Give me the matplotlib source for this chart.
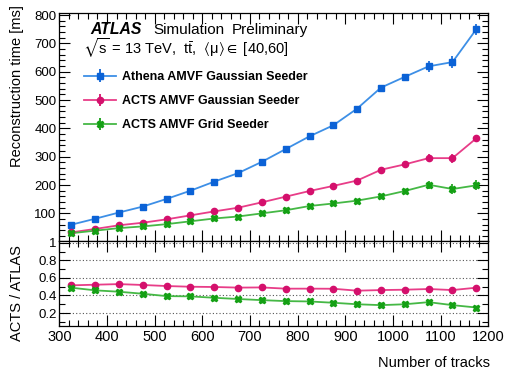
import numpy as np
import matplotlib.pyplot as plt
from matplotlib.ticker import MultipleLocator

plt.rcParams['font.family'] = ['Liberation Sans', 'DejaVu Sans']
plt.rcParams['mathtext.fontset'] = 'custom'
plt.rcParams['mathtext.rm'] = 'Liberation Sans'
plt.rcParams['mathtext.it'] = 'Liberation Sans'
plt.rcParams['mathtext.fallback'] = 'stixsans'

# Data
ntracks = [325, 375, 425, 475, 525, 575, 625, 675, 725, 775, 825, 875, 925, 975, 1025, 1075, 1125, 1175]

athena_gauss = [60, 81, 103, 124, 151, 180, 212, 242, 282, 327, 372, 411, 470, 544, 582, 619, 634, 750]
athena_gauss_err = [4, 3, 3, 3, 3, 3, 4, 4, 4, 4, 5, 5, 6, 8, 10, 20, 22, 20]

acts_gauss = [33, 45, 58, 67, 79, 93, 107, 120, 139, 159, 179, 197, 216, 254, 273, 295, 295, 365]
acts_gauss_err = [3, 2, 2, 2, 2, 2, 3, 3, 3, 3, 4, 4, 5, 6, 8, 14, 16, 12]

acts_grid = [30, 39, 48, 54, 62, 72, 82, 89, 100, 111, 126, 135, 145, 160, 179, 201, 186, 199]
acts_grid_err = [3, 2, 2, 2, 2, 2, 3, 3, 3, 3, 4, 4, 5, 6, 8, 14, 18, 18]

ratio_gauss = [0.516, 0.523, 0.53, 0.52, 0.508, 0.50, 0.497, 0.49, 0.492, 0.478, 0.478, 0.477,
               0.455, 0.462, 0.466, 0.474, 0.462, 0.489]
ratio_grid = [0.489, 0.459, 0.443, 0.42, 0.393, 0.39, 0.374, 0.36, 0.347, 0.336, 0.332, 0.317,
              0.30, 0.29, 0.30, 0.324, 0.29, 0.263]

blue_line, blue_mk = '#3d8fe6', '#0b62d6'
pink_line, pink_mk = '#e83d88', '#d4106c'
green_line, green_mk = '#45b845', '#14a014'

W, H = 507, 371
fig = plt.figure(figsize=(W / 100, H / 100), dpi=100)
ax = fig.add_axes([0.117, 0.350, 0.846, 0.614])
axr = fig.add_axes([0.117, 0.122, 0.846, 0.228], sharex=ax)

def draw(a, y, err, lc, mc, marker, ms, label=None):
    a.plot(ntracks, y, color=lc, lw=1.3, zorder=2)
    a.errorbar(ntracks, y, yerr=err, xerr=4, fmt=marker, ms=ms, color=mc,
               ecolor=mc, elinewidth=1.2, capsize=0, zorder=3)
    if label:
        a.errorbar([], [], yerr=[], fmt='-' + marker, ms=ms, color=lc, mfc=mc, mec=mc,
                   ecolor=mc, lw=1.3, label=label)

draw(ax, athena_gauss, athena_gauss_err, blue_line, blue_mk, 's', 4.5, 'Athena AMVF Gaussian Seeder')
draw(ax, acts_gauss, acts_gauss_err, pink_line, pink_mk, 'o', 4.5, 'ACTS AMVF Gaussian Seeder')
draw(ax, acts_grid, acts_grid_err, green_line, green_mk, 'X', 5, 'ACTS AMVF Grid Seeder')

ratio_err = [0.01] * len(ntracks)
draw(axr, ratio_gauss, ratio_err, pink_line, pink_mk, 'o', 4.5)
draw(axr, ratio_grid, ratio_err, green_line, green_mk, 'X', 5)

ax.set_xlim(300, 1200)
ax.set_ylim(2, 806)
axr.set_ylim(0.055, 1.02)

for a in (ax, axr):
    a.tick_params(which='both', direction='in', top=True, right=True, labelsize=9.5, pad=2)
    a.tick_params(which='major', length=8, width=0.8)
    a.tick_params(which='minor', length=4, width=0.8)
    a.xaxis.set_major_locator(MultipleLocator(100))
    a.xaxis.set_minor_locator(MultipleLocator(20))
    for s in a.spines.values():
        s.set_linewidth(0.9)
axr.tick_params(axis='x', labelsize=10.5, pad=3)

ax.yaxis.set_major_locator(MultipleLocator(100))
ax.yaxis.set_minor_locator(MultipleLocator(20))
ax.set_yticks([100, 200, 300, 400, 500, 600, 700, 800])
ax.tick_params(labelbottom=False)

axr.set_yticks([0.2, 0.4, 0.6, 0.8, 1.0])
axr.set_yticklabels(['0.2', '0.4', '0.6', '0.8', '1'])
axr.yaxis.set_minor_locator(MultipleLocator(0.1))
for v in [0.2, 0.4, 0.6, 0.8, 1.0]:
    axr.axhline(v, color='#555555', ls=(0, (1, 2)), lw=0.8, zorder=1)

# axis titles placed in figure pixels, like the reference
fig.text(17 / W, 1 - 5 / H, 'Reconstruction time [ms]', rotation=90, ha='center', va='top', fontsize=10.5)
fig.text(17 / W, 1 - 293 / H, 'ACTS / ATLAS', rotation=90, ha='center', va='center', fontsize=10.5)
fig.text(490 / W, 1 - 367 / H, 'Number of tracks', ha='right', va='baseline', fontsize=10.5)

fig.text(90 / W, 1 - 30 / H, 'ATLAS', fontsize=11.3, fontweight='bold', fontstyle='italic', va='center')
fig.text(153 / W, 1 - 30 / H, 'Simulation', fontsize=11, va='center')
fig.text(232 / W, 1 - 30 / H, 'Preliminary', fontsize=11, va='center')
fig.text(83 / W, 1 - 48 / H,
         r'$\sqrt{\mathrm{s}}$ = 13 TeV,  t$\bar{\mathrm{t}}$,  $\langle\mu\rangle \in$ [40,60]',
         fontsize=10.5, va='center')

ax.legend(loc='upper left', bbox_to_anchor=(84 / W, 1 - 71 / H), bbox_transform=fig.transFigure,
          frameon=False, prop={'weight': 'bold', 'size': 9}, handlelength=2.56,
          labelspacing=0.98, handletextpad=0.5, borderpad=0, borderaxespad=0)

fig.savefig('out.png', dpi=100)
